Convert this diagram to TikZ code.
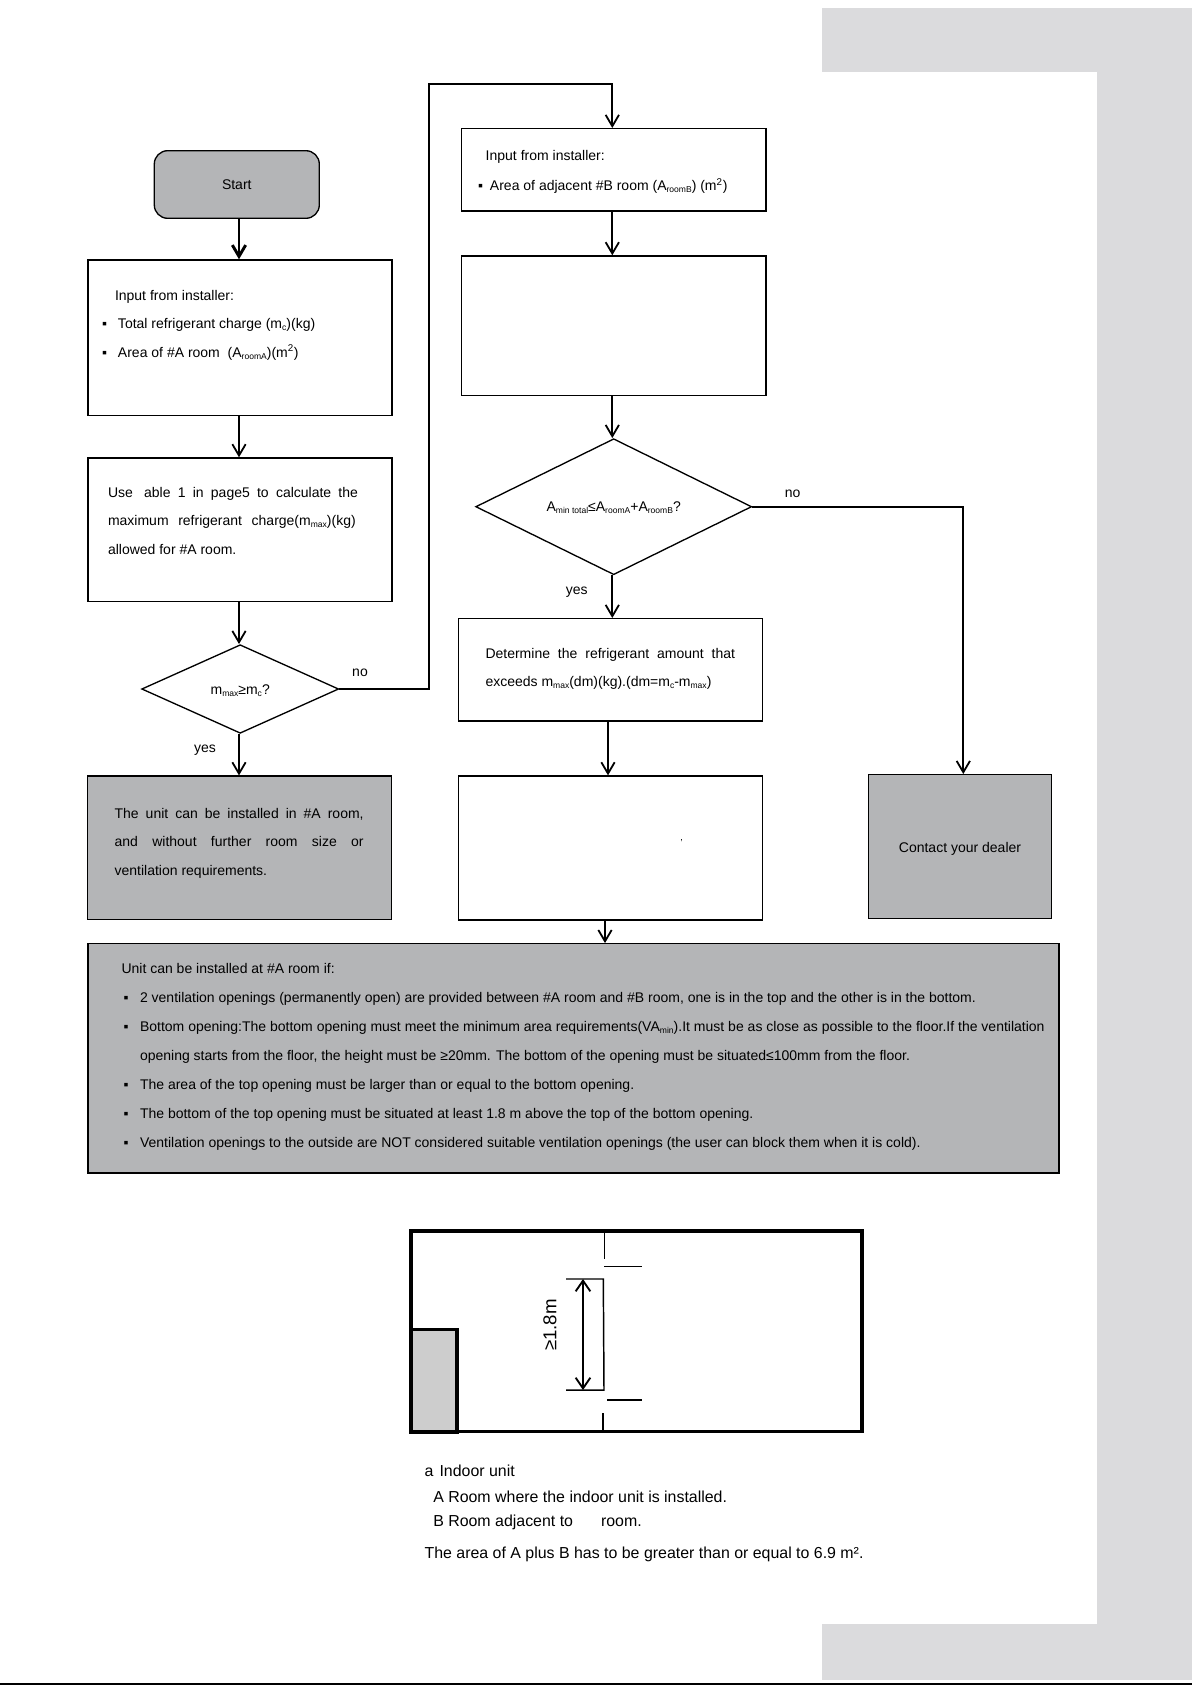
\documentclass[tikz,border=0pt]{standalone}
\usepackage{fontspec}
\setmainfont{Liberation Sans}
\usepackage{tikz}
\usetikzlibrary{arrows.meta,shapes.geometric}
\definecolor{band}{HTML}{DBDBDD}
\definecolor{shade}{HTML}{B4B5B7}
\definecolor{unit}{HTML}{CDCDCD}
\def\px{0.75pt}
% text block whose first baseline sits #1 above the node centre
\newcommand{\boxtext}[3]{\raisebox{#1}[0pt][0pt]{\parbox[t]{#2}{#3}}}
% one line whose baseline sits #1 below the node centre
\newcommand{\midtext}[2]{\raisebox{-#1}[0pt][0pt]{#2}}
\newcommand{\fitline}[2]{\makebox[#1][s]{#2}}
\newcommand{\bul}[1]{\makebox[#1][l]{▪}}
\newcommand{\lowtext}[1]{\raisebox{-1.5pt}{\fontsize{6.4}{7}\selectfont #1}}
\tikzset{
  flowbox/.style={draw=black,rectangle,line width=1pt,inner sep=0pt,align=left},
  greybox/.style={flowbox,fill=shade},
  decision/.style={draw=black,diamond,line width=1pt,inner sep=0pt},
  flowarrow/.style={line width=1.35pt,-{Straight Barb[length=8.5pt,width=10pt]}},
  answer/.style={anchor=base},
  legend/.style={anchor=base west,inner sep=0pt,font=\fontsize{11.94}{14}\selectfont}
}
\begin{document}
\begin{tikzpicture}[x=0.75pt,y=-0.75pt,font=\fontsize{10.5}{21.4}\selectfont]
  \useasboundingbox (0,0) rectangle (1192,1685);
  % page bands
  \fill[band] (822,8) rectangle (1192,72);
  \fill[band] (1096.8,8) rectangle (1192,1680);
  \fill[band] (822,1624) rectangle (1192,1680);
  \draw[black,line width=1.5pt] (0,1684.4) -- (1192,1684.4);
  % columns the connectors run on
  \coordinate (colA) at (239,0);
  \coordinate (colB) at (612.3,0);
  \coordinate (colC) at (608,0);
  \coordinate (colD) at (605,0);
  \coordinate (colE) at (963.3,0);
  \coordinate (looptop) at (429.3,84);
  % left column
  \node[greybox,rounded corners=10pt,minimum width=165*\px,minimum height=67.6*\px] (start) at (236.8,184.5) {\midtext{4.1pt}{Start}};
  \node[flowbox,minimum width=304*\px,minimum height=155.7*\px] (inputA) at (240,337.8)
    {\boxtext{28.3pt}{207pt}{\hspace*{9.75pt}Input from installer:\\
      \bul{12pt}Total refrigerant charge (m\lowtext{c})(kg)\\
      \bul{12pt}Area of \#A room\ \ (A\lowtext{roomA})(m\textsuperscript{2})}};
  \node[flowbox,minimum width=304*\px,minimum height=143.7*\px] (usetable) at (240,529.8)
    {\boxtext{24.6pt}{198pt}{\fitline{187.5pt}{Use \hspace{3pt}able 1 in page5 to calculate the}\\
      \fitline{185.8pt}{maximum refrigerant charge(m\lowtext{max})(kg)}\\
      allowed for \#A room.}};
  \node[decision,minimum width=197*\px,minimum height=88.6*\px,aspect=2.2] (fitA) at (240.2,689) {\midtext{4.4pt}{m\lowtext{max}≥m\lowtext{c}?}};
  \node[greybox,minimum width=304*\px,minimum height=143.3*\px] (unitok) at (239.3,847.7)
    {\boxtext{22.2pt}{187pt}{\fitline{186.75pt}{The unit can be installed in \#A room,}\\
      \fitline{186.75pt}{and without further room size or}\\
      ventilation requirements.}};
  % middle column
  \node[flowbox,minimum width=304.3*\px,minimum height=82.3*\px] (inputB) at (613.8,169.8)
    {\boxtext{6.8pt}{203.7pt}{\hspace*{5.8pt}Input from installer:\\[1.1pt]
      \bul{9pt}Area of adjacent \#B room (A\lowtext{roomB}) (m\textsuperscript{2})}};
  \node[flowbox,minimum width=304.3*\px,minimum height=139.5*\px] (blankA) at (613.8,325.7) {};
  \node[decision,minimum width=276*\px,minimum height=136*\px,aspect=2] (fitB) at (613.7,506.7) {\midtext{3.8pt}{A\lowtext{min total}≤A\lowtext{roomA}+A\lowtext{roomB}?}};
  \node[flowbox,minimum width=304.4*\px,minimum height=102.3*\px] (excess) at (610.5,669.8)
    {\boxtext{8.8pt}{187.5pt}{\fitline{187.2pt}{Determine the refrigerant amount that}\\
      exceeds m\lowtext{max}(dm)(kg).(dm=m\lowtext{c}-m\lowtext{max})}};
  \node[flowbox,minimum width=304.4*\px,minimum height=144*\px] (blankB) at (610.5,848) {};
  \node[font=\fontsize{7}{8}\selectfont] (mark) at (681.7,841) {,};
  % dealer
  \node[greybox,minimum width=183.4*\px,minimum height=144*\px] (dealer) at (960,846.7) {\midtext{4.7pt}{Contact your dealer}};
  % conditions
  \node[greybox,minimum width=971*\px,minimum height=229.3*\px] (conditions) at (573.5,1058.4)
    {\boxtext{63.4pt}{678pt}{\fontsize{10.5}{21.75}\selectfont Unit can be installed at \#A room if:\\
      \hspace*{1.5pt}\bul{12.4pt}2 ventilation openings (permanently open) are provided between \#A room and \#B room, one is in the top and the other is in the bottom.\\
      \hspace*{1.5pt}\bul{12.4pt}\rlap{\fitline{678.4pt}{Bottom opening:The bottom opening must meet the minimum area requirements(VA\lowtext{min}).It must be as close as possible to the floor.If the ventilation}}\\
      \hspace*{13.9pt}opening starts from the floor, the height must be ≥20mm. The bottom of the opening must be situated≤100mm from the floor.\\
      \hspace*{1.5pt}\bul{12.4pt}The area of the top opening must be larger than or equal to the bottom opening.\\
      \hspace*{1.5pt}\bul{12.4pt}The bottom of the top opening must be situated at least 1.8 m above the top of the bottom opening.\\
      \hspace*{1.5pt}\bul{12.4pt}Ventilation openings to the outside are NOT considered suitable ventilation openings (the user can block them when it is cold).}};
  % connectors
  \draw[flowarrow,line width=2.2pt] (colA |- start.south) -- (colA |- inputA.north);
  \draw[flowarrow] (colA |- inputA.south) -- (colA |- usetable.north);
  \draw[flowarrow] (colA |- usetable.south) -- (colA |- fitA.north);
  \draw[flowarrow] (colA |- fitA.south) -- (colA |- unitok.north);
  \draw[flowarrow] (fitA.east) -| (looptop) -| (colB |- inputB.north);
  \draw[flowarrow] (colB |- inputB.south) -- (colB |- blankA.north);
  \draw[flowarrow] (colB |- blankA.south) -- (colB |- fitB.north);
  \draw[flowarrow] (colB |- fitB.south) -- (colB |- excess.north);
  \draw[flowarrow] (colC |- excess.south) -- (colC |- blankB.north);
  \draw[flowarrow] (colD |- blankB.south) -- (colD |- conditions.north);
  \draw[flowarrow] (fitB.east) -| (colE |- dealer.north);
  \node[answer] (yesA) at (205,752.7) {yes};
  \node[answer] (noA) at (360,676.7) {no};
  \node[answer] (yesB) at (576.7,594) {yes};
  \node[answer] (noB) at (792.7,497.7) {no};
  % room
  \draw[line width=2.5pt] (411,1231) rectangle (862,1431.7);
  \draw[line width=2.7pt,fill=unit] (411,1329.3) rectangle (456.7,1431.7);
  \draw[line width=1pt] (604.3,1231) -- (604.3,1259);
  \draw[line width=1pt] (604,1266.3) -- (642,1266.3);
  \draw[line width=1.1pt] (566,1279) -- (603.3,1279) -- (604,1390) -- (566,1390);
  \draw[line width=1.4pt,{Straight Barb[length=8pt,width=11pt]}-{Straight Barb[length=8pt,width=11pt]}] (583,1279) -- (583,1390);
  \draw[line width=1.3pt] (607,1400) -- (642,1400);
  \draw[line width=1.3pt] (603,1413.3) -- (603,1431.7);
  \node[rotate=90,font=\fontsize{14}{16}\selectfont] (height) at (550,1325) {≥1.8m};
  % legend
  \node[legend] (legA) at (424.3,1476) {a\hspace{4.6pt}Indoor unit};
  \node[legend] (legB) at (433,1502.7) {A Room where the indoor unit is installed.};
  \node[legend] (legC) at (433,1526.7) {B Room adjacent to\hspace{21pt}room.};
  \node[legend] (legD) at (424.3,1558.5) {The area of A plus B has to be greater than or equal to 6.9 m².};
\end{tikzpicture}
\end{document}
